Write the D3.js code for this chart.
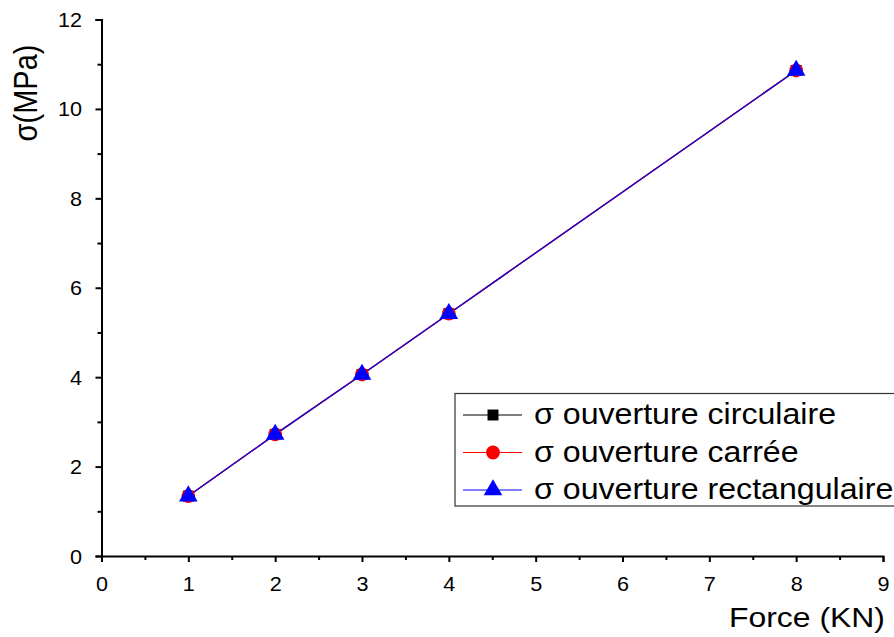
<!DOCTYPE html>
<html><head><meta charset="utf-8">
<script src="https://cdn.jsdelivr.net/npm/d3@7"></script>
<style>body{margin:0;background:#fff;} text{font-family:"Liberation Sans",Arial,sans-serif;}</style>
</head><body>
<svg id="c" width="894" height="637"></svg>
<script>
const forces = [1, 2, 3, 4, 8];
const sigmaCirculaire = [1.34, 2.72, 4.06, 5.42, 10.86];
const sigmaCarree = [1.34, 2.72, 4.06, 5.42, 10.86];
const sigmaRectangulaire = [1.34, 2.72, 4.06, 5.42, 10.86];
const seriesNames = ["σ ouverture circulaire", "σ ouverture carrée", "σ ouverture rectangulaire"];
const xTicks = [0,1,2,3,4,5,6,7,8,9];
const yTicks = [0,2,4,6,8,10,12];

const svg = d3.select("#c");
const x = d3.scaleLinear().domain([0,9]).range([101.5,883]);
const y = d3.scaleLinear().domain([0,12]).range([556,19.5]);

// axes
const xAxis = d3.axisBottom(x).tickValues(xTicks).tickSize(6).tickFormat(d3.format("d"));
const gx = svg.append("g").attr("transform","translate(0,556)").call(xAxis);
gx.selectAll("text").attr("font-size",20).attr("y",0).attr("dy",35).attr("transform","scale(1.08,1)");
const xMinor = d3.axisBottom(x).tickValues(d3.range(0.5,9,1)).tickSize(4).tickFormat("");
svg.append("g").attr("transform","translate(0,556)").call(xMinor).select(".domain").remove();

const yAxis = d3.axisLeft(y).tickValues(yTicks).tickSize(6).tickFormat(d3.format("d"));
const gy = svg.append("g").attr("transform","translate(101.5,0)").call(yAxis);
gy.selectAll("text").attr("font-size",20).attr("x",-18).attr("dy","0.35em").attr("transform","scale(1.08,1)");
const yMinor = d3.axisLeft(y).tickValues(d3.range(1,12,2)).tickSize(4).tickFormat("");
svg.append("g").attr("transform","translate(101.5,0)").call(yMinor).select(".domain").remove();

svg.selectAll(".domain").attr("stroke","#000").attr("stroke-width",2);
svg.selectAll(".tick line").attr("stroke","#000").attr("stroke-width",2);
svg.selectAll(".tick text").attr("fill","#000");

// labels
svg.append("text").attr("transform","translate(885,627) scale(1.14,1)").attr("text-anchor","end").attr("font-size",28).text("Force (KN)");
svg.append("text").attr("transform","translate(37,93) rotate(-90) scale(1,1.15)").attr("text-anchor","middle").attr("font-size",29).text("σ(MPa)");

const series = [
  {vals: sigmaCirculaire, color:"#000000", sym:d3.symbolSquare, size:120},
  {vals: sigmaCarree, color:"#ff0000", sym:d3.symbolCircle, size:150},
  {vals: sigmaRectangulaire, color:"#0000ff", sym:d3.symbolTriangle, size:150}
];
const line = d3.line().x((d,i)=>x(forces[i])).y(d=>y(d));
series.forEach(s=>{
  svg.append("path").attr("d",line(s.vals)).attr("fill","none").attr("stroke",s.color).attr("stroke-width",1.3).attr("opacity",0.85);
});
series.forEach(s=>{
  svg.selectAll(null).data(s.vals).enter().append("path")
    .attr("d",d3.symbol().type(s.sym).size(s.size))
    .attr("transform",(d,i)=>`translate(${x(forces[i])},${y(d)})`)
    .attr("fill",s.color);
});

// legend
const lg = svg.append("g");
lg.append("rect").attr("x",455).attr("y",393.5).attr("width",445).attr("height",112.5).attr("fill","#fff").attr("stroke","#333").attr("stroke-width",1.2);
series.forEach((s,i)=>{
  const cy = 415 + i*37.5;
  lg.append("line").attr("x1",463).attr("x2",522).attr("y1",cy).attr("y2",cy).attr("stroke",s.color).attr("stroke-width",1.2);
  lg.append("path").attr("d",d3.symbol().type(s.sym).size(s.size)).attr("transform",`translate(493,${cy})`).attr("fill",s.color);
  lg.append("text").attr("transform",`translate(534,${cy+9}) scale(1.09,1)`).attr("font-size",29.5).attr("fill","#000").text(seriesNames[i]);
});
</script>
</body></html>
